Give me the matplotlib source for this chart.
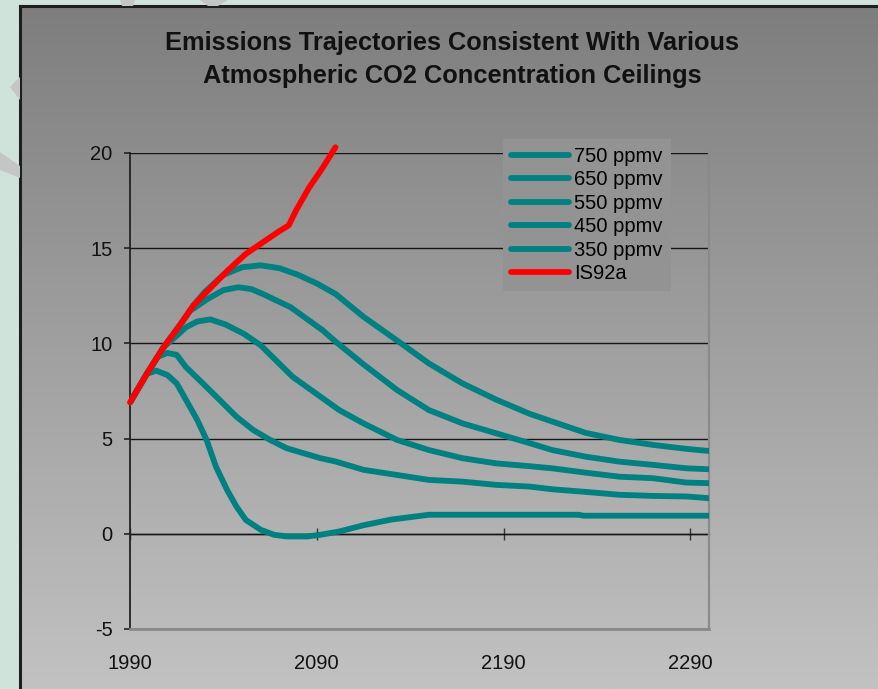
import numpy as np
import matplotlib
matplotlib.use('Agg')
import matplotlib.pyplot as plt
from matplotlib.patches import Polygon
from matplotlib.colors import LinearSegmentedColormap

W, H = 879, 689

# values
yrs_750 = [1990, 1999, 2008, 2017, 2024, 2030, 2040, 2050, 2060, 2070, 2080, 2090, 2100,
           2115, 2133, 2150, 2168, 2186, 2204, 2216, 2234, 2252, 2270, 2288, 2300]
ppm_750 = [6.9, 8.4, 9.8, 11.0, 12.0, 12.7, 13.6, 14.0, 14.1, 13.95, 13.6, 13.15, 12.6,
           11.4, 10.15, 8.95, 7.9, 7.05, 6.3, 5.9, 5.3, 4.93, 4.67, 4.46, 4.35]

yrs_650 = [1990, 1999, 2008, 2017, 2022, 2031, 2040, 2048, 2055, 2061, 2076, 2093, 2100,
           2115, 2133, 2150, 2168, 2186, 2204, 2216, 2234, 2252, 2270, 2288, 2300]
ppm_650 = [6.9, 8.4, 9.8, 11.0, 11.7, 12.3, 12.8, 12.95, 12.85, 12.6, 11.9, 10.7, 10.1,
           8.9, 7.55, 6.5, 5.8, 5.28, 4.76, 4.4, 4.05, 3.79, 3.62, 3.44, 3.39]

yrs_550 = [1990, 1999, 2008, 2015, 2020, 2026, 2033, 2041, 2051, 2060, 2077, 2092, 2102,
           2115, 2133, 2150, 2168, 2186, 2204, 2216, 2234, 2252, 2270, 2288, 2300]
ppm_550 = [6.9, 8.4, 9.8, 10.4, 10.85, 11.15, 11.26, 11.0, 10.5, 9.9, 8.25, 7.2, 6.5,
           5.8, 4.93, 4.4, 3.97, 3.7, 3.55, 3.44, 3.21, 3.0, 2.92, 2.69, 2.66]

yrs_450 = [1990, 1999, 2005, 2010, 2015, 2020, 2029, 2038, 2047, 2056, 2065, 2074, 2083,
           2092, 2100, 2115, 2133, 2150, 2168, 2186, 2204, 2216, 2234, 2252, 2270, 2288, 2300]
ppm_450 = [6.9, 8.4, 9.3, 9.5, 9.4, 8.75, 7.9, 7.03, 6.15, 5.45, 4.93, 4.49, 4.23,
           3.97, 3.8, 3.36, 3.09, 2.83, 2.74, 2.57, 2.48, 2.34, 2.2, 2.05, 1.99, 1.96, 1.87]

yrs_350 = [1990, 1999, 2004, 2010, 2015, 2020, 2026, 2031, 2036, 2042, 2047, 2052, 2060,
           2067, 2074, 2085, 2092, 2102, 2115, 2130, 2150, 2230, 2233, 2300]
ppm_350 = [6.9, 8.4, 8.57, 8.34, 7.9, 7.03, 5.98, 4.93, 3.53, 2.3, 1.43, 0.73, 0.21,
           -0.05, -0.14, -0.14, -0.05, 0.12, 0.45, 0.75, 1.0, 1.0, 0.95, 0.95]

yrs_is92a = [1990, 1999, 2008, 2017, 2024, 2033, 2042, 2052, 2061, 2070, 2075, 2079, 2086, 2093, 2100]
is92a = [6.9, 8.4, 9.8, 11.0, 12.0, 12.9, 13.8, 14.7, 15.3, 15.9, 16.2, 17.0, 18.2, 19.2, 20.3]

labels = ['750 ppmv', '650 ppmv', '550 ppmv', '450 ppmv', '350 ppmv', 'IS92a']
x_ticks = [1990, 2090, 2190, 2290]
y_ticks = [-5, 0, 5, 10, 15, 20]
title_lines = ['Emissions Trajectories Consistent With Various',
               'Atmospheric CO2 Concentration Ceilings']

TEAL = '#008080'
RED = '#ff0000'

plt.rcParams['font.family'] = ['Liberation Sans', 'DejaVu Sans']
plt.rcParams['axes.unicode_minus'] = False

fig = plt.figure(figsize=(W / 100, H / 100), dpi=100)
fig.patch.set_facecolor('#cfe3db')


def px(x, y):
    # pixel position (top-left origin) -> figure fraction
    return x / W, 1 - y / H


# slide decoration behind the chart
for pts in ([(10, 87), (20, 77), (20, 100)],
            [(0, 152), (20, 166), (20, 178), (0, 170)],
            [(120, 0), (135, 0), (133, 6), (122, 6)],
            [(200, 0), (228, 0), (218, 6), (208, 6)]):
    fig.patches.append(Polygon([px(*p) for p in pts], closed=True,
                               transform=fig.transFigure,
                               facecolor='#c4c6c5', edgecolor='none'))

# chart area: grey vertical gradient with dark border on left / top
bg = fig.add_axes([20 / W, 0, 1 - 20 / W, (H - 6) / H])
grad = np.linspace(0, 1, 256).reshape(-1, 1)
cmap = LinearSegmentedColormap.from_list('g', ['#7e7e7e', '#c2c2c2'])
bg.imshow(grad, aspect='auto', cmap=cmap, extent=[0, 1, 0, 1], origin='upper')
bg.set_xticks([])
bg.set_yticks([])
for s in ['right', 'bottom']:
    bg.spines[s].set_visible(False)
for s in ['left', 'top']:
    bg.spines[s].set_color('#1e1e1e')
    bg.spines[s].set_linewidth(2.2)

for line, ypix in zip(title_lines, [43, 76]):
    fig.text(452 / W, 1 - ypix / H, line, ha='center', va='center',
             fontsize=18.3, fontweight='bold', color='#111111')

ax = fig.add_axes([130 / W, 1 - 629 / H, (709 - 130) / W, (629 - 153) / H])
ax.set_facecolor('none')

lw = 4.2
for yrs, vals, lab in [(yrs_750, ppm_750, labels[0]), (yrs_650, ppm_650, labels[1]),
                       (yrs_550, ppm_550, labels[2]), (yrs_450, ppm_450, labels[3]),
                       (yrs_350, ppm_350, labels[4])]:
    ax.plot(yrs, vals, color=TEAL, lw=lw, label=lab, solid_capstyle='round',
            solid_joinstyle='round', zorder=3)
ax.plot(yrs_is92a, is92a, color=RED, lw=lw, label=labels[5], solid_capstyle='round',
        solid_joinstyle='round', zorder=4, clip_on=False)

ax.set_xlim(1990, 2300)
ax.set_ylim(-5, 20)
ax.set_xticks(x_ticks)
ax.set_yticks(y_ticks)
ax.tick_params(axis='x', length=0, pad=18, labelsize=14.5, labelcolor='#111111')
ax.tick_params(axis='y', length=4.5, width=1.2, color='#222222', pad=8,
               labelsize=14.5, labelcolor='#111111')
ax.grid(axis='y', color='#151515', lw=1.0)
ax.set_axisbelow(True)

ax.spines['top'].set_visible(False)
ax.spines['right'].set_color('#8a8a8a')
ax.spines['right'].set_linewidth(1.6)
ax.spines['bottom'].set_color('#8a8a8a')
ax.spines['bottom'].set_linewidth(2)
ax.spines['left'].set_color('#222222')
ax.spines['left'].set_linewidth(1.3)

# category axis crosses at zero
sec = ax.secondary_xaxis(0.2)
sec.set_xticks(x_ticks)
sec.tick_params(direction='inout', length=8.5, width=1, color='#333333',
                labelbottom=False, labeltop=False)
for s in ['top', 'bottom']:
    sec.spines[s].set_color('#151515')
    sec.spines[s].set_linewidth(1.0)

ax.legend(loc='upper left', bbox_to_anchor=px(503, 139), bbox_transform=fig.transFigure,
          frameon=True, facecolor='#939393', edgecolor='none', framealpha=1,
          fancybox=False, fontsize=14.5, handlelength=2.9, handletextpad=0.25,
          labelspacing=0.22, borderpad=0.4, borderaxespad=0)

fig.savefig('out.png', dpi=100, facecolor=fig.get_facecolor())
